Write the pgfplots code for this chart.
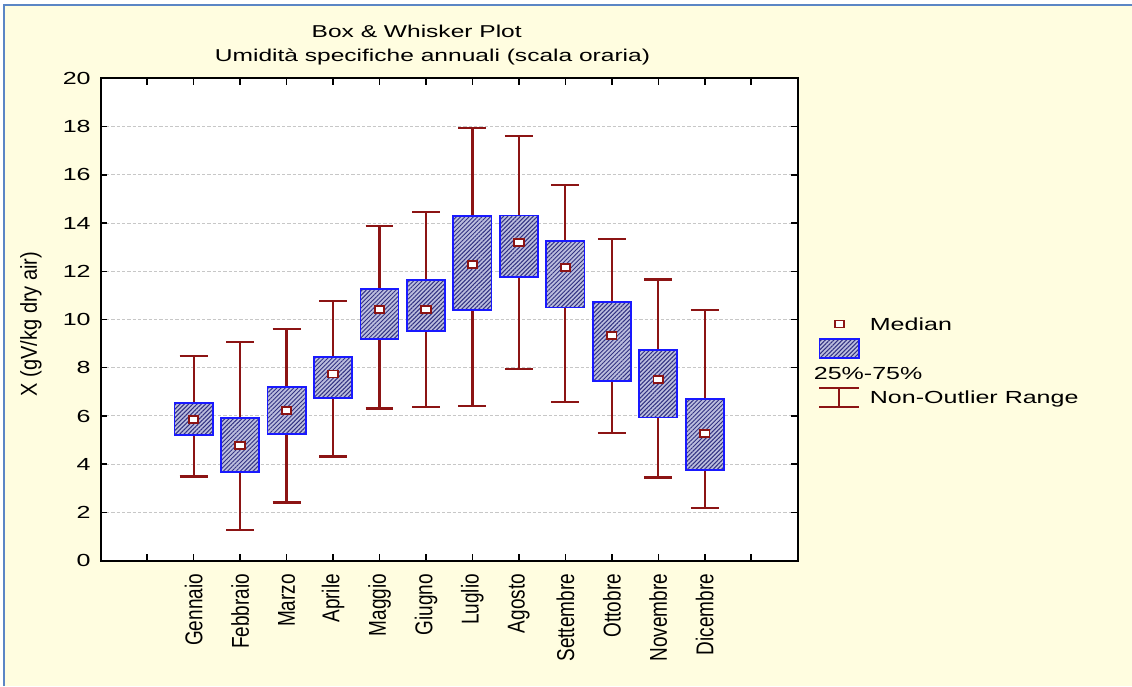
\documentclass[border=0pt]{standalone}
\usepackage{fontspec}
\setmainfont[FakeStretch=1.43]{Liberation Sans}
\newfontfamily\rotfont[FakeStretch=0.78]{Liberation Sans}
\newfontfamily\ylabfont[FakeStretch=0.87]{Liberation Sans}
\usepackage{pgfplots}
\pgfplotsset{compat=1.18}
\usepgfplotslibrary{statistics}
\usetikzlibrary{patterns.meta}
\definecolor{cream}{RGB}{255,253,224}
\definecolor{frameblue}{RGB}{91,134,197}
\definecolor{dred}{RGB}{140,20,20}
\definecolor{boxblue}{RGB}{25,25,255}
\definecolor{boxfill}{RGB}{188,190,222}
\definecolor{hatch}{RGB}{50,50,130}
\pgfplotsset{
 medlegend/.style={legend image code/.code={\draw[##1] plot coordinates {(11.9pt,0pt)};}},
 boxlegend/.style={legend image code/.code={\draw[##1] (0pt,-5.7pt) rectangle (23.8pt,5.7pt);}},
 whiskerlegend/.style={legend image code/.code={\draw[##1] (0pt,5.6pt) -- (23.8pt,5.6pt) (11.9pt,5.6pt) -- (11.9pt,-5.6pt) (0pt,-5.6pt) -- (23.8pt,-5.6pt);}},
}
\begin{document}
\begin{tikzpicture}
\begin{scope}[x=0.6pt,y=-0.6pt,shift={(0pt,411.6pt)}]
 \useasboundingbox (0,0) rectangle (1132,686);
 \fill[white] (0,0) rectangle (1132,686);
 \fill[cream] (4,5) rectangle (1132,686);
 \draw[frameblue, line width=1.2pt] (4,686) -- (4,5) -- (1132,5);
 \node[anchor=base, inner sep=0pt, font=\fontsize{10.3pt}{12pt}\selectfont] at (416.7,38) {Box \& Whisker Plot};
 \node[anchor=base, inner sep=0pt, font=\fontsize{10.3pt}{12pt}\selectfont] at (432.5,61.7) {Umidità specifiche annuali (scala oraria)};
 \node[rotate=90, inner sep=0pt, font=\ylabfont\fontsize{13.8pt}{16pt}\selectfont] at (31,324) {X (gV/kg dry air)};
\end{scope}
\begin{axis}[
 at={(60.42pt,75.18pt)}, anchor=south west,
 scale only axis, width=418.2pt, height=289.44pt,
 xmin=-1, xmax=14, ymin=0, ymax=20,
 xtick={-1,0,...,14},
 xticklabels={,,Gennaio,Febbraio,Marzo,Aprile,Maggio,Giugno,Luglio,Agosto,Settembre,Ottobre,Novembre,Dicembre,,},
 ytick={0,2,...,20},
 ymajorgrids,
 major grid style={dash pattern=on 2pt off 1.2pt, color=black!22, line width=0.6pt},
 axis line style={line width=1pt},
 tick style={black, line width=0.9pt},
 major tick length=3.8pt,
 tick align=inside,
 xtick pos=both, ytick pos=both,
 axis background/.style={fill=white},
 /pgf/number format/assume math mode=true,
 yticklabel style={font=\fontsize{10.5pt}{12pt}\selectfont, xshift=-2.5pt},
 xticklabel style={font=\rotfont\fontsize{14.6pt}{17pt}\selectfont, yshift=-4.5pt, rotate=90, anchor=east},
 boxplot/draw direction=y,
 boxplot/box extend=0.82,
 boxplot/whisker extend=0.6,
 boxplot/every box/.style={draw=boxblue, line width=1.1pt, preaction={fill=boxfill}, preaction={pattern={Lines[angle=45,distance=1.8pt,line width=0.6pt]}, pattern color=hatch}},
 boxplot/every whisker/.style={draw=dred, line width=1.3pt},
 boxplot/draw/median/.code={},
 legend style={at={(1.0297,0.5037)}, anchor=north west, draw=none, fill=none, inner sep=0pt, outer sep=0pt,
   row sep=4.6pt, column sep=5.8pt, font=\fontsize{10.5pt}{12.6pt}\selectfont,
   nodes={inner sep=0pt, text height=7.6pt, text depth=0pt}},
 legend cell align=left,
]
\addplot[forget plot, boxplot prepared={draw position=1, lower whisker=3.49, lower quartile=5.22, median=5.87, upper quartile=6.53, upper whisker=8.50}] coordinates {};
\addplot[forget plot, boxplot prepared={draw position=2, lower whisker=1.28, lower quartile=3.67, median=4.77, upper quartile=5.91, upper whisker=9.07}] coordinates {};
\addplot[forget plot, boxplot prepared={draw position=3, lower whisker=2.41, lower quartile=5.26, median=6.21, upper quartile=7.19, upper whisker=9.61}] coordinates {};
\addplot[forget plot, boxplot prepared={draw position=4, lower whisker=4.32, lower quartile=6.76, median=7.74, upper quartile=8.43, upper whisker=10.75}] coordinates {};
\addplot[forget plot, boxplot prepared={draw position=5, lower whisker=6.31, lower quartile=9.19, median=10.42, upper quartile=11.25, upper whisker=13.88}] coordinates {};
\addplot[forget plot, boxplot prepared={draw position=6, lower whisker=6.36, lower quartile=9.52, median=10.42, upper quartile=11.64, upper whisker=14.45}] coordinates {};
\addplot[forget plot, boxplot prepared={draw position=7, lower whisker=6.42, lower quartile=10.40, median=12.29, upper quartile=14.30, upper whisker=17.94}] coordinates {};
\addplot[forget plot, boxplot prepared={draw position=8, lower whisker=7.95, lower quartile=11.77, median=13.20, upper quartile=14.31, upper whisker=17.61}] coordinates {};
\addplot[forget plot, boxplot prepared={draw position=9, lower whisker=6.57, lower quartile=10.50, median=12.16, upper quartile=13.25, upper whisker=15.57}] coordinates {};
\addplot[forget plot, boxplot prepared={draw position=10, lower whisker=5.31, lower quartile=7.45, median=9.35, upper quartile=10.74, upper whisker=13.33}] coordinates {};
\addplot[forget plot, boxplot prepared={draw position=11, lower whisker=3.45, lower quartile=5.94, median=7.52, upper quartile=8.74, upper whisker=11.66}] coordinates {};
\addplot[forget plot, boxplot prepared={draw position=12, lower whisker=2.20, lower quartile=3.77, median=5.26, upper quartile=6.72, upper whisker=10.39}] coordinates {};
\addplot[forget plot, only marks, mark=square*, mark size=2.1pt, mark options={fill=white, draw=dred, line width=1.1pt, xscale=1.35}]
 coordinates {(1,5.87) (2,4.77) (3,6.21) (4,7.74) (5,10.42) (6,10.42) (7,12.29) (8,13.20) (9,12.16) (10,9.35) (11,7.52) (12,5.26)};
\addlegendimage{only marks, mark=square*, mark size=2.1pt, mark options={fill=white, draw=dred, line width=1.1pt, xscale=1.35}, medlegend}
\addlegendentry{Median}
\addlegendimage{draw=boxblue, line width=1.1pt, preaction={fill=boxfill}, preaction={pattern={Lines[angle=45,distance=1.8pt,line width=0.6pt]}, pattern color=hatch}, boxlegend}
\addlegendentry{\mbox{}}
\addlegendimage{empty legend}
\addlegendentry{\hspace*{-33.6pt}25\%-75\%}
\addlegendimage{draw=dred, line width=1.3pt, whiskerlegend}
\addlegendentry{Non-Outlier Range}
\end{axis}
\end{tikzpicture}
\end{document}
